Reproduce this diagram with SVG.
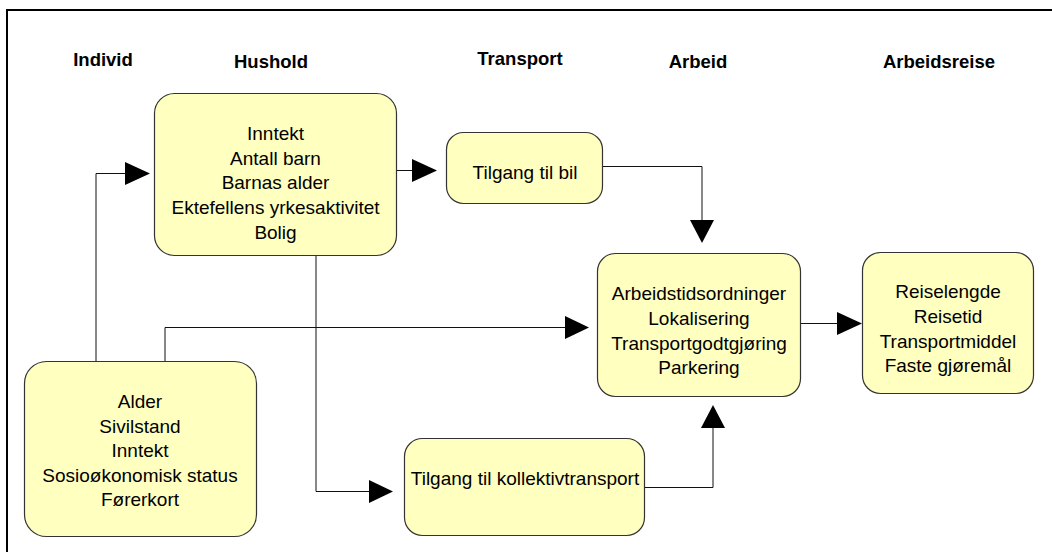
<svg xmlns="http://www.w3.org/2000/svg" width="1052" height="552" viewBox="0 0 1052 552">
<style>
.box{fill:#FFFFC0;stroke:#333;stroke-width:1.2}
.hdr{font-family:"Liberation Sans",Arial,sans-serif;font-size:18.5px;font-weight:bold;fill:#000;text-anchor:middle}
.txt{font-family:"Liberation Sans",Arial,sans-serif;font-size:19px;fill:#000;text-anchor:middle}
.con{fill:none;stroke:#111;stroke-width:1}
.ah{fill:#000;stroke:none}
</style>
<rect width="1052" height="552" fill="#fff"/>
<path d="M7,552 V10 H1052" fill="none" stroke="#000" stroke-width="2"/>
<g id="headers">
<text class="hdr" x="103" y="66">Individ</text>
<text class="hdr" x="271" y="68">Hushold</text>
<text class="hdr" x="520" y="65">Transport</text>
<text class="hdr" x="698" y="68">Arbeid</text>
<text class="hdr" x="939" y="68">Arbeidsreise</text>
</g>
<g id="connectors">
<path class="con" d="M96,361 V173.5 H126"/>
<polygon class="ah" points="125,162 150,173.5 125,185"/>
<path class="con" d="M165,361 V327.5 H566"/>
<polygon class="ah" points="565,316 589,327.5 565,339"/>
<path class="con" d="M397,170.5 H413"/>
<polygon class="ah" points="412,159 437,170.5 412,182"/>
<path class="con" d="M316,256 V491.5 H370"/>
<polygon class="ah" points="369,480 393,491.5 369,503"/>
<path class="con" d="M603,166.5 H702 V221"/>
<polygon class="ah" points="690,220 702,243 714,220"/>
<path class="con" d="M645,487.5 H713 V427"/>
<polygon class="ah" points="701,428 713,405 725,428"/>
<path class="con" d="M801,323.5 H838"/>
<polygon class="ah" points="837,312 862,323.5 837,335"/>
</g>
<g id="node-hushold">
<rect class="box" x="154.5" y="93.5" width="242" height="162" rx="20"/>
<text class="txt" x="275.5" y="140">Inntekt</text>
<text class="txt" x="275.5" y="164.5">Antall barn</text>
<text class="txt" x="275.5" y="189">Barnas alder</text>
<text class="txt" x="275.5" y="214">Ektefellens yrkesaktivitet</text>
<text class="txt" x="275.5" y="238.5">Bolig</text>
</g>
<g id="node-tilgang-bil">
<rect class="box" x="446.5" y="132.5" width="156" height="71" rx="17"/>
<text class="txt" x="525" y="179">Tilgang til bil</text>
</g>
<g id="node-arbeid">
<rect class="box" x="597.5" y="253.5" width="203" height="143" rx="18"/>
<text class="txt" x="699" y="300">Arbeidstidsordninger</text>
<text class="txt" x="699" y="325">Lokalisering</text>
<text class="txt" x="699" y="349.5">Transportgodtgjøring</text>
<text class="txt" x="699" y="374">Parkering</text>
</g>
<g id="node-arbeidsreise">
<rect class="box" x="862.5" y="252.5" width="171" height="141" rx="18"/>
<text class="txt" x="948" y="298">Reiselengde</text>
<text class="txt" x="948" y="323">Reisetid</text>
<text class="txt" x="948" y="347.5">Transportmiddel</text>
<text class="txt" x="948" y="372">Faste gjøremål</text>
</g>
<g id="node-individ">
<rect class="box" x="24.5" y="361.5" width="232" height="175" rx="22"/>
<text class="txt" x="140" y="408">Alder</text>
<text class="txt" x="140" y="432.5">Sivilstand</text>
<text class="txt" x="140" y="457">Inntekt</text>
<text class="txt" x="140" y="481.5">Sosioøkonomisk status</text>
<text class="txt" x="140" y="506">Førerkort</text>
</g>
<g id="node-kollektiv">
<rect class="box" x="404.5" y="438.5" width="240" height="97" rx="18"/>
<text class="txt" x="525" y="485">Tilgang til kollektivtransport</text>
</g>
</svg>
